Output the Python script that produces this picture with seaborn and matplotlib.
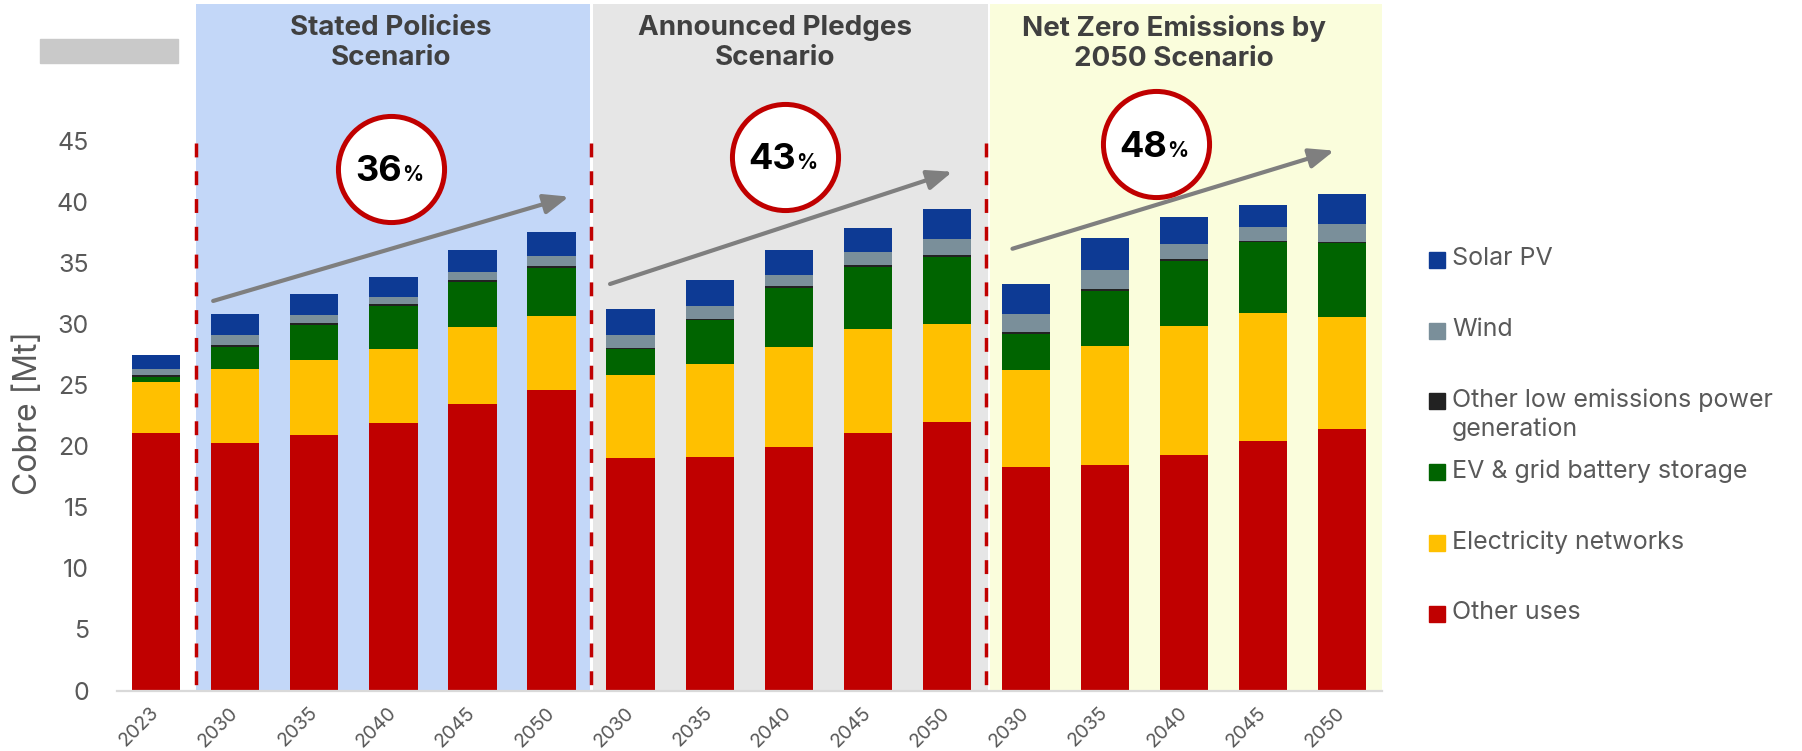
import numpy as np
import pandas as pd
import matplotlib.pyplot as plt
import seaborn as sns
from matplotlib.patches import Rectangle

# chart data (Mt of copper)
year_labels = ["2023",
               "2030", "2035", "2040", "2045", "2050",
               "2030", "2035", "2040", "2045", "2050",
               "2030", "2035", "2040", "2045", "2050"]
scenario = ["Hist"] + ["STEPS"] * 5 + ["APS"] * 5 + ["NZE"] * 5

other_uses = [21.13,
              20.26, 20.94, 21.93, 23.48, 24.61,
              19.03, 19.17, 19.93, 21.11, 21.98,
              18.30, 18.46, 19.33, 20.48, 21.41]
electricity_networks = [4.16,
                        6.09, 6.18, 6.09, 6.32, 6.09,
                        6.83, 7.57, 8.23, 8.50, 8.09,
                        7.97, 9.78, 10.57, 10.46, 9.23]
ev_storage = [0.43,
              1.81, 2.84, 3.52, 3.71, 3.96,
              2.11, 3.60, 4.83, 5.13, 5.49,
              2.95, 4.51, 5.30, 5.80, 6.02]
other_low = [0.10,
             0.16, 0.14, 0.14, 0.14, 0.14,
             0.13, 0.14, 0.14, 0.14, 0.14,
             0.17, 0.16, 0.14, 0.13, 0.13]
wind = [0.50,
        0.82, 0.68, 0.57, 0.65, 0.81,
        1.06, 1.04, 0.93, 1.09, 1.33,
        1.45, 1.53, 1.28, 1.12, 1.47]
solar_pv = [1.17,
            1.70, 1.72, 1.67, 1.78, 1.95,
            2.11, 2.10, 2.05, 1.96, 2.41,
            2.50, 2.63, 2.22, 1.81, 2.41]

panel_titles = ["Stated Policies\nScenario", "Announced Pledges\nScenario",
                "Net Zero Emissions by\n2050 Scenario"]
growth = ["36", "43", "48"]

series = ["Other uses", "Electricity networks", "EV & grid battery storage",
          "Other low emissions power generation", "Wind", "Solar PV"]
colors = {"Other uses": "#C00000", "Electricity networks": "#FFC000",
          "EV & grid battery storage": "#006400",
          "Other low emissions power generation": "#222222",
          "Wind": "#7A8F9A", "Solar PV": "#0D3A94"}

keys = [f"{s} {y}" for s, y in zip(scenario, year_labels)]
df = pd.DataFrame({"key": keys,
                   "Other uses": other_uses,
                   "Electricity networks": electricity_networks,
                   "EV & grid battery storage": ev_storage,
                   "Other low emissions power generation": other_low,
                   "Wind": wind,
                   "Solar PV": solar_pv})
cum = df[series].cumsum(axis=1)
cum["key"] = keys

sns.set_style("white")
plt.rcParams["font.family"] = ["Inter", "DejaVu Sans"]

W, H = 1802, 751
fig = plt.figure(figsize=(W / 100, H / 100), dpi=100)
ax = fig.add_axes([116.7 / W, 60.5 / H, 1265 / W, 686.5 / H])

# scenario background panels
ax.axvspan(0.5, 5.49, color="#C3D7F8", lw=0, zorder=0)
ax.axvspan(5.52, 10.52, color="#E6E6E6", lw=0, zorder=0)
ax.axvspan(10.55, 15.5, color="#FAFDDC", lw=0, zorder=0)

# stacked bars: draw cumulative totals from the top down
for name in reversed(series):
    sns.barplot(data=cum, x="key", y=name, order=keys, color=colors[name],
                saturation=1, width=0.61, linewidth=0, ax=ax, zorder=2)

ax.set_xlim(-0.5, 15.5)
ax.set_ylim(0, 56.27)
ax.set_yticks(range(0, 50, 5))
ax.set_xticks(range(len(keys)))
ax.set_xticklabels(year_labels)
ax.set_xlabel("")
ax.set_ylabel("")
for side in ["left", "top", "right"]:
    ax.spines[side].set_visible(False)
ax.spines["bottom"].set_color("#D9D9D9")
ax.spines["bottom"].set_linewidth(1.6)
ax.tick_params(axis="y", length=0, pad=20, labelsize=18, labelcolor="#595959")
ax.tick_params(axis="x", length=0, pad=14, labelsize=14, labelcolor="#595959")
for lbl in ax.get_xticklabels():
    lbl.set_rotation(45)
    lbl.set_ha("right")
    lbl.set_va("center")
    lbl.set_rotation_mode("anchor")

fig.text(29 / W, 1 - 413 / H, "Cobre [Mt]", rotation=90, ha="center", va="center",
         fontsize=23, color="#595959")

# dashed separators
for xs in [0.5, 5.5, 10.5]:
    ax.plot([xs, xs], [44.9, 0], color="#C00000", lw=2.5, ls=(0, (4, 4)), zorder=3)

# panel titles
for xt, title in zip([2.97, 7.83, 12.87], panel_titles):
    ax.text(xt, 53.05, title, ha="center", va="center", fontsize=20,
            fontweight="bold", color="#404040", linespacing=1.2)

# trend arrows
arrows = [((0.72, 31.93), (5.22, 40.48)),
          ((5.74, 33.32), (10.07, 42.52)),
          ((10.83, 36.21), (14.90, 44.25))]
for start, end in arrows:
    ax.annotate("", xy=end, xytext=start,
                arrowprops=dict(arrowstyle="-|>,head_length=1.0,head_width=0.4",
                                color="#7F7F7F", lw=3, shrinkA=0, shrinkB=0,
                                mutation_scale=15), zorder=4)

# growth circles
circles = [(2.97, 42.75), (7.95, 43.75), (12.65, 44.77)]
for (cx, cy), g in zip(circles, growth):
    ax.plot(cx, cy, marker="o", ms=76.4, mfc="white", mec="#C00000", mew=3.6,
            zorder=5)
    ax.annotate(g, xy=(cx, cy), xytext=(8, -9), textcoords="offset points",
                ha="right", va="baseline", fontsize=26, fontweight="bold",
                color="black", zorder=6)
    ax.annotate("%", xy=(cx, cy), xytext=(8, -9), textcoords="offset points",
                ha="left", va="baseline", fontsize=15, fontweight="bold",
                color="black", zorder=6)

# legend drawn by hand (square aligned with first text line)
legend_rows = [("Solar PV", 260), ("Wind", 331),
               ("Other low emissions power\ngeneration", 401),
               ("EV & grid battery storage", 472),
               ("Electricity networks", 543), ("Other uses", 614)]
legend_keys = ["Solar PV", "Wind", "Other low emissions power generation",
               "EV & grid battery storage", "Electricity networks", "Other uses"]
for (label, yc), k in zip(legend_rows, legend_keys):
    fig.patches.append(Rectangle((1429 / W, 1 - (yc + 8) / H), 16 / W, 16 / H,
                                 transform=fig.transFigure, color=colors[k]))
    fig.text(1452 / W, 1 - (yc - 13) / H, label, ha="left", va="top",
             fontsize=18, color="#595959", linespacing=1.3)

# grey placeholder box at top left
fig.patches.append(Rectangle((40 / W, 1 - 62.7 / H), 138 / W, 23.7 / H,
                             transform=fig.transFigure, color="#C9C9C9"))

plt.savefig("out.png", dpi=100)
